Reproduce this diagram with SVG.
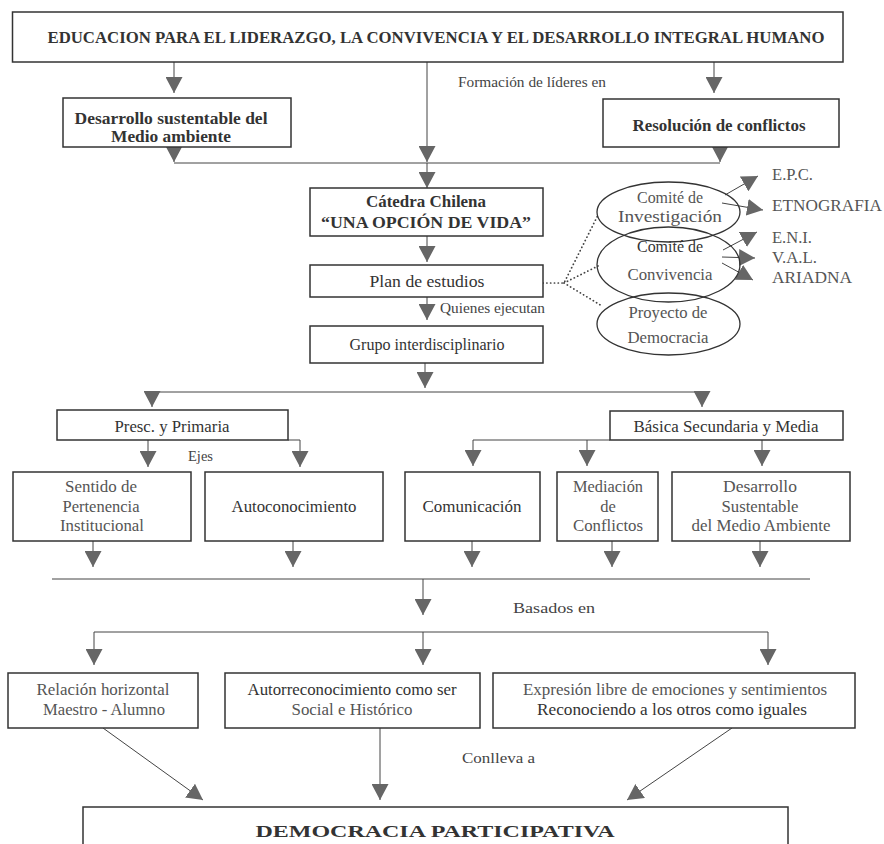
<svg xmlns="http://www.w3.org/2000/svg" width="884" height="844" viewBox="0 0 884 844">
<defs>
<marker id="ah" markerUnits="userSpaceOnUse" markerWidth="17" markerHeight="17" refX="16" refY="8.5" orient="auto" viewBox="0 0 17 17">
<path d="M0,0 L16,8.5 L0,17 z" fill="#666"/>
</marker>
<style>
text{font-family:'Liberation Serif','DejaVu Serif','Times New Roman',serif}
.b{fill:#fff;stroke:#333;stroke-width:1.5}
.e{fill:none;stroke:#333;stroke-width:1.3}
.t{font-size:16.5px;fill:#333;text-anchor:middle}
.tl{font-size:16.5px;fill:#555;text-anchor:middle}
.bd{font-weight:bold}
.s{font-size:15px;fill:#444}
.lb{font-size:17px;fill:#555}
.c{fill:none;stroke:#444;stroke-width:1}
.a{fill:none;stroke:#444;stroke-width:1;marker-end:url(#ah)}
.d{fill:none;stroke:#444;stroke-width:1.7;stroke-dasharray:0.2 3.6;stroke-linecap:round}
</style>
</defs>
<rect width="884" height="844" fill="#fff"/>

<g id="connectors">
<path class="a" d="M174 62 V93"/>
<path class="a" d="M427 62 V162"/>
<path class="a" d="M714 62 V93"/>
<path class="a" d="M174 147 V162"/>
<path class="a" d="M720 147 V162"/>
<path class="c" d="M174 163 H720"/>
<path class="a" d="M427 163 V188"/>
<path class="a" d="M427 236 V262"/>
<path class="a" d="M427 297 V320"/>
<path class="d" d="M543 283 H564 L598 215 M564 283 L598 266 M564 283 L602 306"/>
<path class="a" d="M725 195 L758 176"/>
<path class="a" d="M722 203 L763 210"/>
<path class="a" d="M723 250 L757 232"/>
<path class="a" d="M722 257 L755 258"/>
<path class="a" d="M722 263 L753 280"/>
<path class="a" d="M425 363 V388"/>
<path class="c" d="M152 392 H702"/>
<path class="a" d="M152 391 V407"/>
<path class="a" d="M702 391 V407"/>
<path class="a" d="M148 440 V467"/>
<path class="a" d="M288 440 H300 V467"/>
<path class="a" d="M610 440 H473 V466"/>
<path class="a" d="M587 440 V466"/>
<path class="a" d="M762 440 V466"/>
<path class="a" d="M93 541 V567"/>
<path class="a" d="M293 541 V567"/>
<path class="a" d="M472 541 V567"/>
<path class="a" d="M612 541 V567"/>
<path class="a" d="M760 541 V567"/>
<path class="c" d="M52 579 H810"/>
<path class="a" d="M423 579 V615"/>
<path class="c" d="M94 632 H768"/>
<path class="a" d="M94 632 V665"/>
<path class="a" d="M423 632 V665"/>
<path class="a" d="M768 632 V665"/>
<path class="a" d="M103 728 L203 800"/>
<path class="a" d="M380 728 V800"/>
<path class="a" d="M732 728 L627 800"/>
</g>

<g id="labels">
<text class="s" x="458" y="87" textLength="148" lengthAdjust="spacingAndGlyphs">Formación de líderes en</text>
<text class="s" x="440" y="313" textLength="105" lengthAdjust="spacingAndGlyphs">Quienes ejecutan</text>
<text class="s" x="188" y="461" textLength="25" lengthAdjust="spacingAndGlyphs">Ejes</text>
<text class="s" x="513" y="613" font-size="16" textLength="82" lengthAdjust="spacingAndGlyphs">Basados en</text>
<text class="s" x="462" y="763" font-size="16" textLength="73" lengthAdjust="spacingAndGlyphs">Conlleva a</text>
<text class="lb" x="772" y="180" textLength="41" lengthAdjust="spacingAndGlyphs">E.P.C.</text>
<text class="lb" x="772" y="211" textLength="110" lengthAdjust="spacingAndGlyphs">ETNOGRAFIA</text>
<text class="lb" x="772" y="243" fill="#333" textLength="40" lengthAdjust="spacingAndGlyphs">E.N.I.</text>
<text class="lb" x="772" y="263" textLength="45" lengthAdjust="spacingAndGlyphs">V.A.L.</text>
<text class="lb" x="772" y="283" textLength="80" lengthAdjust="spacingAndGlyphs">ARIADNA</text>
</g>

<g id="n-title">
<rect class="b" x="12.5" y="12" width="830.5" height="50" stroke-width="2"/>
<text class="t bd" x="436" y="43" font-size="20" textLength="777" lengthAdjust="spacingAndGlyphs">EDUCACION PARA EL LIDERAZGO, LA CONVIVENCIA Y EL DESARROLLO INTEGRAL HUMANO</text>
</g>
<g id="n-desarrollo-medio">
<rect class="b" x="63" y="98" width="228" height="49"/>
<text class="t bd" x="171" y="124" font-size="17" textLength="193" lengthAdjust="spacingAndGlyphs">Desarrollo sustentable del</text>
<text class="t bd" x="171" y="142" font-size="17" textLength="120" lengthAdjust="spacingAndGlyphs">Medio ambiente</text>
</g>
<g id="n-resolucion">
<rect class="b" x="603" y="99" width="236" height="48"/>
<text class="t bd" x="719" y="131" font-size="17" textLength="173" lengthAdjust="spacingAndGlyphs">Resolución de conflictos</text>
</g>
<g id="n-catedra">
<rect class="b" x="310" y="188" width="233" height="48"/>
<text class="t bd" x="426" y="207" font-size="17" textLength="120" lengthAdjust="spacingAndGlyphs">Cátedra Chilena</text>
<text class="t bd" x="426" y="228" font-size="17" textLength="210" lengthAdjust="spacingAndGlyphs">“UNA OPCIÓN DE VIDA”</text>
</g>
<g id="n-plan">
<rect class="b" x="310" y="265" width="233" height="32"/>
<text class="t" x="427" y="287" textLength="115" lengthAdjust="spacingAndGlyphs">Plan de estudios</text>
</g>
<g id="n-grupo">
<rect class="b" x="310" y="326" width="233" height="37"/>
<text class="t" x="427" y="350" textLength="155" lengthAdjust="spacingAndGlyphs">Grupo interdisciplinario</text>
</g>
<g id="n-comite-inv">
<ellipse class="e" cx="668.5" cy="212" rx="71.5" ry="30"/>
<text class="tl" x="670" y="203" textLength="66" lengthAdjust="spacingAndGlyphs">Comité de</text>
<text class="tl" x="670" y="222" textLength="104" lengthAdjust="spacingAndGlyphs">Investigación</text>
</g>
<g id="n-comite-conv">
<ellipse class="e" cx="668.5" cy="264.5" rx="71.5" ry="37.5"/>
<text class="t" x="670" y="252" textLength="66" lengthAdjust="spacingAndGlyphs">Comité de</text>
<text class="tl" x="670" y="280" textLength="85" lengthAdjust="spacingAndGlyphs">Convivencia</text>
</g>
<g id="n-proyecto">
<ellipse class="e" cx="668.5" cy="324" rx="71.5" ry="31"/>
<text class="tl" x="668" y="318" textLength="79" lengthAdjust="spacingAndGlyphs">Proyecto de</text>
<text class="tl" x="668" y="343" textLength="81" lengthAdjust="spacingAndGlyphs">Democracia</text>
</g>
<g id="n-presc">
<rect class="b" x="57" y="410" width="231" height="30"/>
<text class="t" x="172" y="432" textLength="115" lengthAdjust="spacingAndGlyphs">Presc. y Primaria</text>
</g>
<g id="n-basica">
<rect class="b" x="610" y="411" width="233" height="29"/>
<text class="t" x="726" y="432" textLength="185" lengthAdjust="spacingAndGlyphs">Básica Secundaria y Media</text>
</g>
<g id="n-sentido">
<rect class="b" x="13" y="472" width="178" height="69"/>
<text class="tl" x="101" y="492" textLength="72" lengthAdjust="spacingAndGlyphs">Sentido de</text>
<text class="tl" x="101" y="512" textLength="77" lengthAdjust="spacingAndGlyphs">Pertenencia</text>
<text class="tl" x="102" y="531" textLength="84" lengthAdjust="spacingAndGlyphs">Institucional</text>
</g>
<g id="n-autocon">
<rect class="b" x="205" y="472" width="178" height="69"/>
<text class="t" x="294" y="512" textLength="125" lengthAdjust="spacingAndGlyphs">Autoconocimiento</text>
</g>
<g id="n-comunicacion">
<rect class="b" x="405" y="472" width="135" height="69"/>
<text class="t" x="472" y="512" textLength="99" lengthAdjust="spacingAndGlyphs">Comunicación</text>
</g>
<g id="n-mediacion">
<rect class="b" x="557" y="472" width="101" height="69"/>
<text class="tl" x="608" y="492" textLength="70" lengthAdjust="spacingAndGlyphs">Mediación</text>
<text class="tl" x="608" y="512">de</text>
<text class="tl" x="608" y="531" textLength="70" lengthAdjust="spacingAndGlyphs">Conflictos</text>
</g>
<g id="n-desarrollo-sust">
<rect class="b" x="672" y="472" width="178" height="69"/>
<text class="tl" x="760" y="492" textLength="74" lengthAdjust="spacingAndGlyphs">Desarrollo</text>
<text class="tl" x="760" y="512" textLength="77" lengthAdjust="spacingAndGlyphs">Sustentable</text>
<text class="tl" x="761" y="531" textLength="139" lengthAdjust="spacingAndGlyphs">del Medio Ambiente</text>
</g>
<g id="n-relacion">
<rect class="b" x="8" y="673" width="190" height="55"/>
<text class="tl" x="103" y="695" textLength="133" lengthAdjust="spacingAndGlyphs">Relación horizontal</text>
<text class="tl" x="104" y="715" textLength="122" lengthAdjust="spacingAndGlyphs">Maestro - Alumno</text>
</g>
<g id="n-autorreconocimiento">
<rect class="b" x="225" y="673" width="255" height="55"/>
<text class="t" x="352" y="695" textLength="209" lengthAdjust="spacingAndGlyphs">Autorreconocimiento como ser</text>
<text class="tl" x="352" y="715" textLength="121" lengthAdjust="spacingAndGlyphs">Social e Histórico</text>
</g>
<g id="n-expresion">
<rect class="b" x="493" y="673" width="362" height="55"/>
<text class="tl" x="675" y="695" textLength="304" lengthAdjust="spacingAndGlyphs">Expresión libre de emociones y sentimientos</text>
<text class="t" x="672" y="715" textLength="270" lengthAdjust="spacingAndGlyphs">Reconociendo a los otros como iguales</text>
</g>
<g id="n-democracia">
<rect class="b" x="83" y="807" width="705" height="50" stroke-width="2"/>
<text class="t bd" x="435" y="837" font-size="24" textLength="359" lengthAdjust="spacingAndGlyphs">DEMOCRACIA PARTICIPATIVA</text>
</g>
</svg>
